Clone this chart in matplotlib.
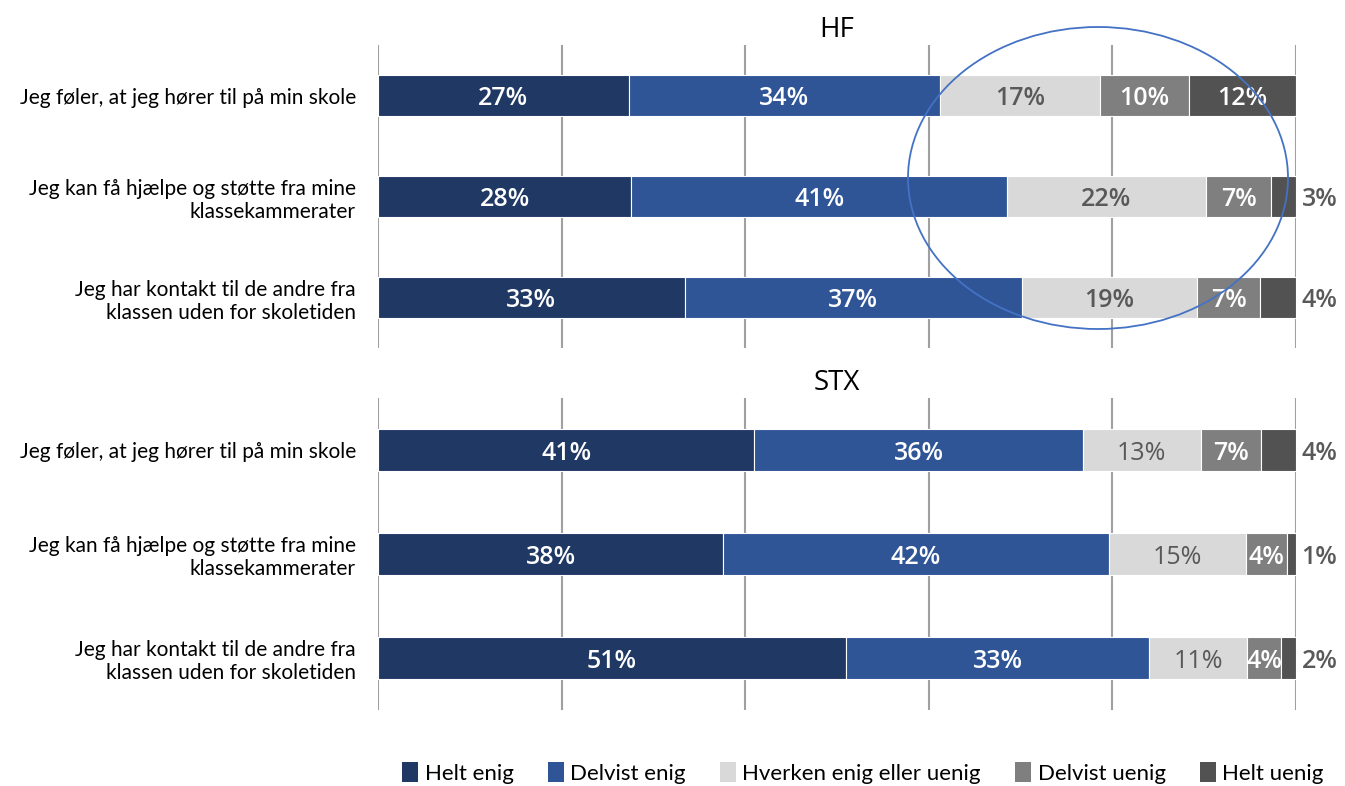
import matplotlib
matplotlib.use("Agg")
import matplotlib.pyplot as plt
from matplotlib.patches import Patch, Ellipse
import numpy as np

categories = [
    "Jeg føler, at jeg hører til på min skole",
    "Jeg kan få hjælpe og støtte fra mine\nklassekammerater",
    "Jeg har kontakt til de andre fra\nklassen uden for skoletiden",
]
series = ["Helt enig", "Delvist enig", "Hverken enig eller uenig", "Delvist uenig", "Helt uenig"]

# percentages, per category
hf_helt_enig = [27.3, 27.6, 33.4]
hf_delvist_enig = [33.9, 40.9, 36.7]
hf_hverken = [17.4, 21.7, 19.1]
hf_delvist_uenig = [9.7, 7.1, 6.9]
hf_helt_uenig = [11.7, 2.7, 3.9]

stx_helt_enig = [41.0, 37.6, 51.0]
stx_delvist_enig = [35.8, 42.0, 33.0]
stx_hverken = [12.8, 15.0, 10.7]
stx_delvist_uenig = [6.6, 4.4, 3.7]
stx_helt_uenig = [3.8, 1.0, 1.6]

colors = ["#203864", "#2F5597", "#D9D9D9", "#7F7F7F", "#525252"]
label_gray = "#595959"

W, H = 1345, 786
fig = plt.figure(figsize=(W / 100, H / 100), dpi=100)

def px_axes(x0, y0, x1, y1):
    return fig.add_axes([x0 / W, 1 - y1 / H, (x1 - x0) / W, (y1 - y0) / H])

ax_hf = px_axes(378, 45, 1296, 348)
ax_stx = px_axes(378, 398, 1296, 710)

LBL = 18

def draw(ax, data, title, mid_bold):
    data = np.array(data, dtype=float)  # shape (5, 3)
    y = np.arange(len(categories))
    left = np.zeros(len(categories))
    for i in range(5):
        ax.barh(y, data[i], left=left, height=0.4, color=colors[i],
                edgecolor="white", linewidth=0.8, zorder=3)
        for j in range(len(categories)):
            v = data[i, j]
            txt = f"{int(round(v))}%"
            cx = left[j] + v / 2
            if i == 4 and v < 5:
                ax.text(100.6, y[j], txt, ha="left", va="center_baseline",
                        color=label_gray, fontsize=LBL, fontweight="semibold",
                        family="Open Sans", clip_on=False, zorder=5)
            elif i == 2:
                ax.text(cx, y[j], txt, ha="center", va="center_baseline",
                        color=label_gray, fontsize=LBL,
                        fontweight="semibold" if mid_bold else "normal",
                        family="Open Sans", zorder=5)
            else:
                ax.text(cx, y[j], txt, ha="center", va="center_baseline",
                        color="white", fontsize=LBL, fontweight="semibold",
                        family="Open Sans", zorder=5)
        left = left + data[i]
    ax.set_xlim(0, 100)
    ax.set_ylim(len(categories) - 0.5, -0.5)
    ax.set_xticks([0, 20, 40, 60, 80, 100])
    ax.tick_params(axis="x", length=0, labelbottom=False)
    ax.grid(axis="x", color="#A0A0A0", linewidth=1.5, zorder=0)
    ax.set_yticks(y)
    ax.set_yticklabels(categories, fontsize=15, family="Lato", linespacing=1.2)
    ax.tick_params(axis="y", length=0, pad=16)
    for s in ax.spines.values():
        s.set_visible(False)
    ax.set_title(title, fontsize=20, family="Open Sans", pad=6)

draw(ax_hf, [hf_helt_enig, hf_delvist_enig, hf_hverken, hf_delvist_uenig, hf_helt_uenig], "HF", True)
draw(ax_stx, [stx_helt_enig, stx_delvist_enig, stx_hverken, stx_delvist_uenig, stx_helt_uenig], "STX", False)

ell = Ellipse((1098 / W, 1 - 178 / H), 380 / W, 302 / H, transform=fig.transFigure,
              fill=False, edgecolor="#4472C4", linewidth=1.3, zorder=10)
fig.add_artist(ell)

handles = [Patch(facecolor=c, edgecolor="none") for c in colors]
fig.legend(handles, series, loc="center", bbox_to_anchor=(863 / W, 1 - 773 / H),
           ncol=5, frameon=False, prop={"family": "Lato", "size": 16},
           handlelength=0.7, handleheight=1.0, handletextpad=0.3, columnspacing=1.55)

fig.savefig("out.png", dpi=100)
